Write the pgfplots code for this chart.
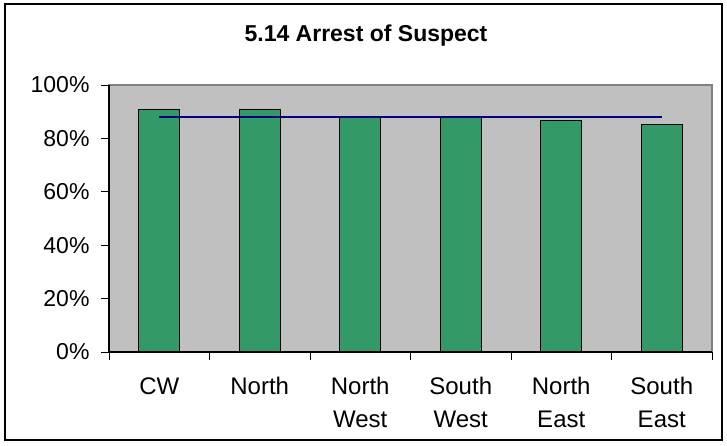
\documentclass[border=0pt]{standalone}
\usepackage{pgfplots}
\pgfplotsset{compat=1.18}
\usepackage{fontspec}
\setmainfont{Liberation Sans}
\definecolor{bargreen}{HTML}{339966}
\definecolor{plotgray}{HTML}{C0C0C0}
\definecolor{navyline}{HTML}{000080}
\definecolor{framegray}{HTML}{808080}
\begin{document}
\begin{tikzpicture}[x=1pt,y=1pt]
\path (0,0) rectangle (727,445);
\draw[line width=1.5pt, black] (5,5) rectangle (722,441);
\node[font=\fontsize{23}{27}\selectfont\bfseries, anchor=base] at (366,403) {5.14 Arrest of Suspect};
\begin{axis}[
 at={(109pt,93pt)}, anchor=south west,
 width=603pt, height=267pt, scale only axis,
 xmin=-0.5, xmax=5.5, ymin=0, ymax=100,
 axis background/.style={fill=plotgray, draw=framegray, line width=1.2pt},
 axis x line*=bottom, axis y line*=left,
 axis line style={black, line width=1.2pt, -},
 tick align=outside,
 major tick length=8pt, minor tick length=8pt,
 ytick={0,20,40,60,80,100},
 yticklabels={0\%,20\%,40\%,60\%,80\%,100\%},
 y tick style={black, line width=1pt},
 xtick={0,...,5},
 xticklabels={\strut CW, \strut North, {\strut North\\West}, {\strut South\\West}, {\strut North\\East}, {\strut South\\East}},
 major x tick style={draw=none},
 minor xtick={-0.5,0.5,1.5,2.5,3.5,4.5,5.5},
 minor x tick style={black, line width=1pt},
 yticklabel style={font=\fontsize{23}{27}\selectfont, xshift=-8pt},
 xticklabel style={font=\fontsize{24}{33}\selectfont, align=center, anchor=north, yshift=-8pt},
 clip=false,
]
\addplot[ybar, bar width=41pt, fill=bargreen, draw=black, line width=1.2pt]
 coordinates {(0,90.9) (1,90.9) (2,87.7) (3,87.8) (4,86.6) (5,85.1)};
\addplot[navyline, line width=1.3pt, mark=none]
 coordinates {(0,88) (1,88) (2,88) (3,88) (4,88) (5,88)};
\end{axis}
\end{tikzpicture}
\end{document}
